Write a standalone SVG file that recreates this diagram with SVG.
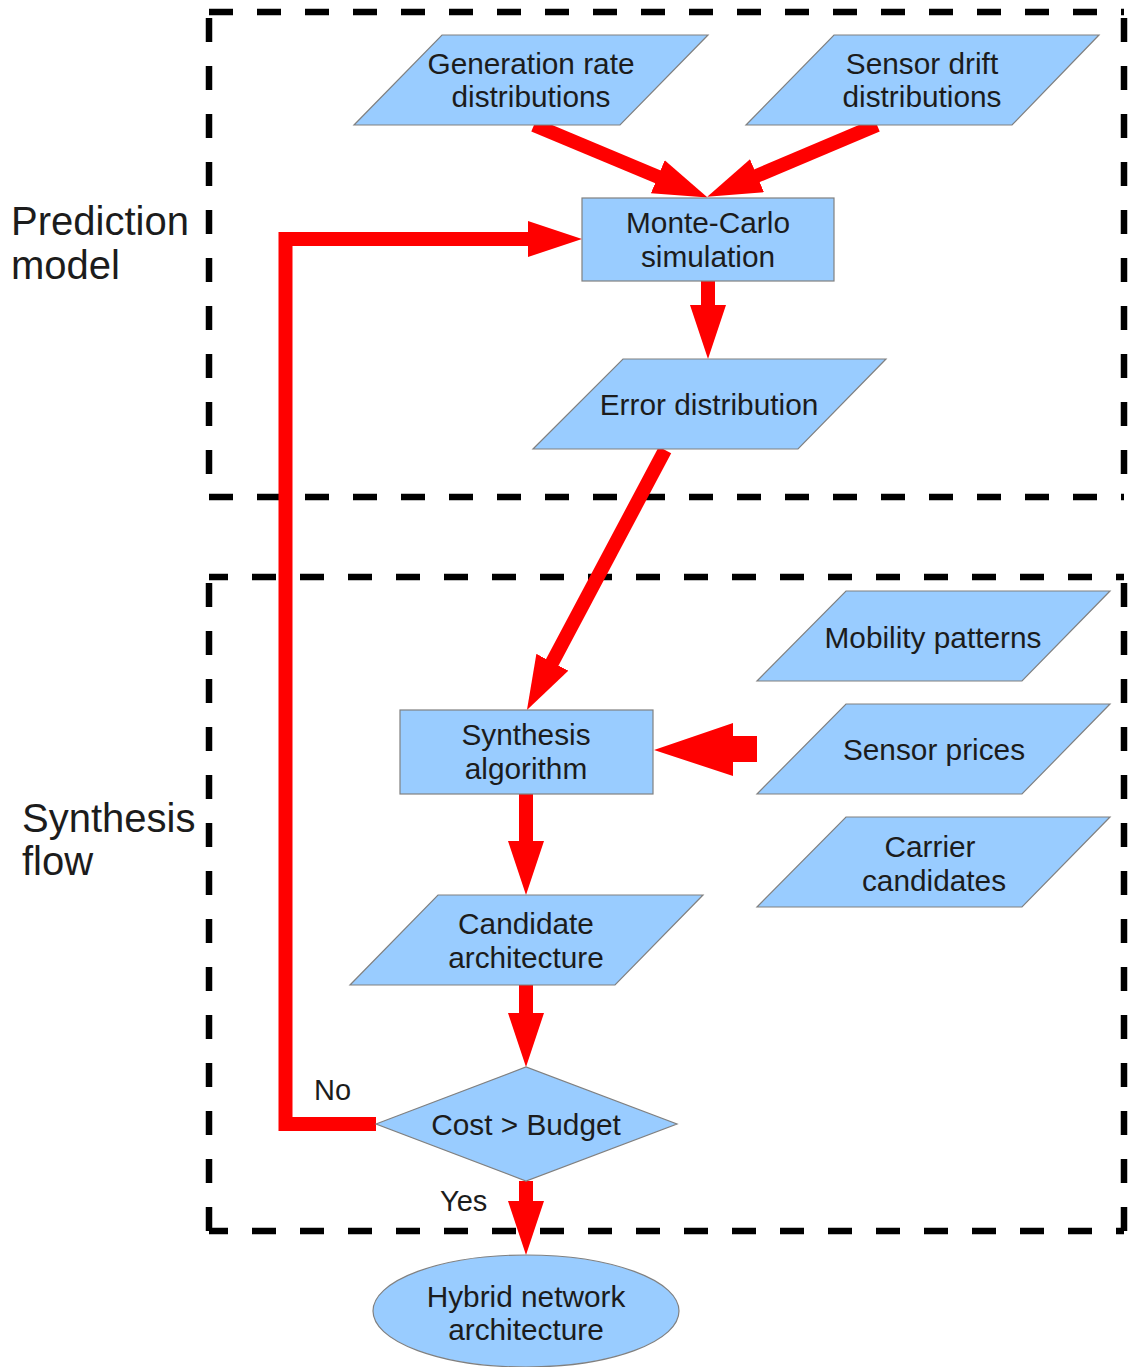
<svg xmlns="http://www.w3.org/2000/svg" width="1131" height="1367" viewBox="0 0 1131 1367">
<style>
.n{fill:#99ccff;stroke:#808080;stroke-width:1.2}
.t{font-family:"Liberation Sans",Arial,sans-serif;font-size:29.8px;fill:#1c1c1c;text-anchor:middle}
.big{font-family:"Liberation Sans",Arial,sans-serif;font-size:40px;fill:#1c1c1c}
.lbl{font-family:"Liberation Sans",Arial,sans-serif;font-size:29px;fill:#1c1c1c}
.dash{stroke:#000;stroke-width:6.5;stroke-dasharray:24 24;fill:none}
.c{stroke:#ff0000;stroke-width:14;fill:none;marker-end:url(#ah)}
</style>
<defs>
<marker id="ah" markerUnits="userSpaceOnUse" markerWidth="54" markerHeight="36" viewBox="0 0 54 36" refX="10" refY="18" orient="auto">
<path d="M0,0 L54,18 L0,36 z" fill="#ff0000"/>
</marker>
</defs>
<g id="frames">
<line class="dash" x1="209" y1="12" x2="1124" y2="12"/>
<line class="dash" x1="209" y1="497" x2="1124" y2="497"/>
<line class="dash" x1="209" y1="12" x2="209" y2="497" stroke-dashoffset="42"/>
<line class="dash" x1="1124" y1="12" x2="1124" y2="497" stroke-dashoffset="42"/>
<line class="dash" x1="209" y1="577" x2="1124" y2="577" stroke-dashoffset="5"/>
<line class="dash" x1="209" y1="1231" x2="1124" y2="1231" stroke-dashoffset="5"/>
<line class="dash" x1="209" y1="577" x2="209" y2="1231" stroke-dashoffset="42"/>
<line class="dash" x1="1124" y1="577" x2="1124" y2="1231" stroke-dashoffset="42"/>
<text class="big" x="11" y="235">Prediction</text>
<text class="big" x="11" y="279">model</text>
<text class="big" x="22" y="832">Synthesis</text>
<text class="big" x="22" y="875">flow</text>
</g>
<g id="connectors">
<line class="c" x1="534" y1="125" x2="667" y2="180.6"/>
<line class="c" x1="877" y1="125" x2="747.8" y2="179.6"/>
<line class="c" x1="708" y1="281" x2="708" y2="315"/>
<line class="c" x1="665" y1="450" x2="547.6" y2="671.1"/>
<path class="c" d="M376,1124 H285.5 V239 H538" stroke-linejoin="miter"/>
<polygon points="757,736 733,736 733,723 654,750 733,776 733,762 757,762" fill="#ff0000"/>
<line class="c" x1="526" y1="794" x2="526" y2="851"/>
<line class="c" x1="526" y1="985" x2="526" y2="1023"/>
<line class="c" x1="526" y1="1181" x2="526" y2="1211"/>
<text class="lbl" x="314" y="1100">No</text>
<text class="lbl" x="440" y="1211">Yes</text>
</g>
<g id="gen">
<polygon class="n" points="442,35 708,35 620,125 354,125"/>
<text class="t" x="531" y="74">Generation rate</text>
<text class="t" x="531" y="107">distributions</text>
</g>
<g id="drift">
<polygon class="n" points="834,35 1099,35 1012,125 746,125"/>
<text class="t" x="922" y="74">Sensor drift</text>
<text class="t" x="922" y="107">distributions</text>
</g>
<g id="mc">
<rect class="n" x="582" y="198" width="252" height="83"/>
<text class="t" x="708" y="233">Monte-Carlo</text>
<text class="t" x="708" y="267">simulation</text>
</g>
<g id="err">
<polygon class="n" points="623,359 886,359 798,449 533,449"/>
<text class="t" x="709" y="415">Error distribution</text>
</g>
<g id="mob">
<polygon class="n" points="846,591 1110,591 1022,681 757,681"/>
<text class="t" x="933" y="648">Mobility patterns</text>
</g>
<g id="prices">
<polygon class="n" points="846,704 1110,704 1022,794 757,794"/>
<text class="t" x="934" y="760">Sensor prices</text>
</g>
<g id="carrier">
<polygon class="n" points="846,817 1110,817 1022,907 757,907"/>
<text class="t" x="930" y="857">Carrier</text>
<text class="t" x="934" y="891">candidates</text>
</g>
<g id="synth">
<rect class="n" x="400" y="710" width="253" height="84"/>
<text class="t" x="526" y="745">Synthesis</text>
<text class="t" x="526" y="779">algorithm</text>
</g>
<g id="cand">
<polygon class="n" points="438,895 703,895 615,985 350,985"/>
<text class="t" x="526" y="934">Candidate</text>
<text class="t" x="526" y="968">architecture</text>
</g>
<g id="cost">
<polygon class="n" points="376,1124 526,1067 677,1124 526,1181"/>
<text class="t" x="526" y="1135">Cost &gt; Budget</text>
</g>
<g id="hybrid">
<ellipse class="n" cx="526" cy="1311" rx="153" ry="56"/>
<text class="t" x="526" y="1307">Hybrid network</text>
<text class="t" x="526" y="1340">architecture</text>
</g>
</svg>
